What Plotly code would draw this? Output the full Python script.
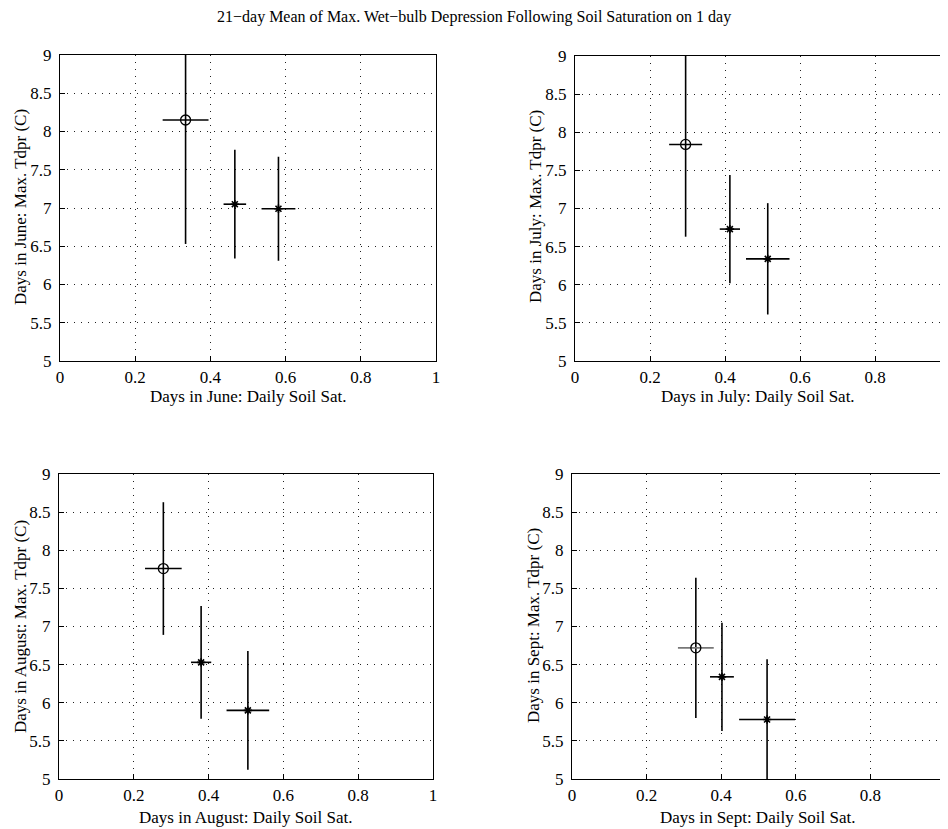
import plotly.graph_objects as go

# ---------------- data ----------------
months = ["June", "July", "August", "Sept"]

june_x = [0.334, 0.465, 0.581]
june_y = [8.15, 7.05, 6.99]
june_xerr = [0.061, 0.030, 0.045]
june_yerr = [1.62, 0.71, 0.68]

july_x = [0.295, 0.413, 0.514]
july_y = [7.84, 6.73, 6.34]
july_xerr = [0.044, 0.027, 0.058]
july_yerr = [1.21, 0.71, 0.73]

aug_x = [0.279, 0.380, 0.505]
aug_y = [7.76, 6.53, 5.90]
aug_xerr = [0.049, 0.027, 0.057]
aug_yerr = [0.87, 0.74, 0.78]

sept_x = [0.332, 0.402, 0.523]
sept_y = [6.72, 6.34, 5.78]
sept_xerr = [0.048, 0.032, 0.075]
sept_yerr = [0.92, 0.71, 0.79]

x_ticks = [0, 0.2, 0.4, 0.6, 0.8, 1]
x_tick_labels = ["0", "0.2", "0.4", "0.6", "0.8", "1"]
y_ticks = [5, 5.5, 6, 6.5, 7, 7.5, 8, 8.5, 9]
y_tick_labels = ["5", "5.5", "6", "6.5", "7", "7.5", "8", "8.5", "9"]

title_text = "21\u2212day Mean of Max. Wet\u2212bulb Depression Following Soil Saturation on 1 day"

series = [
    (june_x, june_y, june_xerr, june_yerr),
    (july_x, july_y, july_xerr, july_yerr),
    (aug_x, aug_y, aug_xerr, aug_yerr),
    (sept_x, sept_y, sept_xerr, sept_yerr),
]

# ---------------- layout geometry (pixels, in window coordinates) ----------------
OFF = 8                      # page body margin
W, H = 948 - OFF, 829 - OFF  # figure size so that it fits the window
FONT = "Liberation Serif"


def px(x):
    return (x - OFF) / W


def py(y):
    return 1 - (y - OFF) / H


# (left, right, top, bottom, x-range max, mirror y)
panels = [
    (60, 436, 55, 361, 1.0, True),
    (575, 948, 56, 361, 373 / 375, False),
    (59, 433, 474, 779, 1.0, True),
    (572, 945, 474, 779, 1.0, True),
]
ytitle_pos = [(20, 207), (535, 207), (20, 627), (533, 626)]
xtitle_pos = [(248, 396), (758, 396), (246, 817), (758, 817)]

fig = go.Figure()
layout = dict(
    template="none",
    width=W, height=H,
    margin=dict(l=0, r=0, t=0, b=0, pad=0),
    paper_bgcolor="white", plot_bgcolor="white",
    showlegend=False,
    font=dict(family=FONT, color="black", size=17),
)
annotations = []

for i, ((xs, ys, xe, ye), (l, r, t, b, xmax, mir)) in enumerate(zip(series, panels)):
    n = "" if i == 0 else str(i + 1)
    xa, ya = "x" + n, "y" + n
    # open circle for the first point
    fig.add_trace(go.Scatter(
        x=xs[:1], y=ys[:1], mode="markers", xaxis=xa, yaxis=ya,
        marker=dict(symbol="circle-open", size=10, color="black", line=dict(width=1.3, color="black")),
        error_x=dict(type="data", array=xe[:1], width=0, thickness=1.6,
                     color="#777777" if i == 3 else "black"),
        error_y=dict(type="data", array=ye[:1], width=0, thickness=1.6, color="black"),
    ))
    # asterisks for the others
    fig.add_trace(go.Scatter(
        x=xs[1:], y=ys[1:], mode="markers", xaxis=xa, yaxis=ya,
        marker=dict(symbol="asterisk-open", size=7, color="black", line=dict(width=1.6, color="black")),
        error_x=dict(type="data", array=xe[1:], width=0, thickness=1.6, color="black"),
        error_y=dict(type="data", array=ye[1:], width=0, thickness=1.6, color="black"),
    ))
    common = dict(
        showline=True, linecolor="black", linewidth=1.2, automargin=False,
        ticks="inside", ticklen=5, tickcolor="black",
        showgrid=True, gridcolor="#222222", gridwidth=1, griddash="1px,6px",
        zeroline=False, tickfont=dict(family=FONT, size=17, color="black"),
    )
    layout["xaxis" + n] = dict(
        common, domain=[px(l), min(px(r), 1.0)], range=[0, xmax], anchor=ya,
        tickvals=x_ticks, ticktext=x_tick_labels, mirror=True,
        ticklabelstandoff=0,
    )
    layout["yaxis" + n] = dict(
        common, domain=[py(b), py(t)], range=[5, 9], anchor=xa,
        tickvals=y_ticks, ticktext=y_tick_labels, mirror=mir,
        ticklabelstandoff=4,
    )
    m = months[i]
    yx, yy = ytitle_pos[i]
    annotations.append(dict(
        text=f"Days in {m}: Max. Tdpr (C)", xref="paper", yref="paper",
        x=px(yx), y=py(yy), xanchor="center", yanchor="middle",
        textangle=-90, showarrow=False, font=dict(family=FONT, size=17, color="black"),
    ))
    xx, xy = xtitle_pos[i]
    annotations.append(dict(
        text=f"Days in {m}: Daily Soil Sat.", xref="paper", yref="paper",
        x=px(xx), y=py(xy), xanchor="center", yanchor="middle",
        showarrow=False, font=dict(family=FONT, size=17, color="black"),
    ))

annotations.append(dict(
    text=title_text, xref="paper", yref="paper", x=px(474), y=py(17.5),
    xanchor="center", yanchor="middle", showarrow=False,
    font=dict(family=FONT, size=16, color="black"),
))
layout["annotations"] = annotations
fig.update_layout(**layout)
fig.write_html("out.html")
